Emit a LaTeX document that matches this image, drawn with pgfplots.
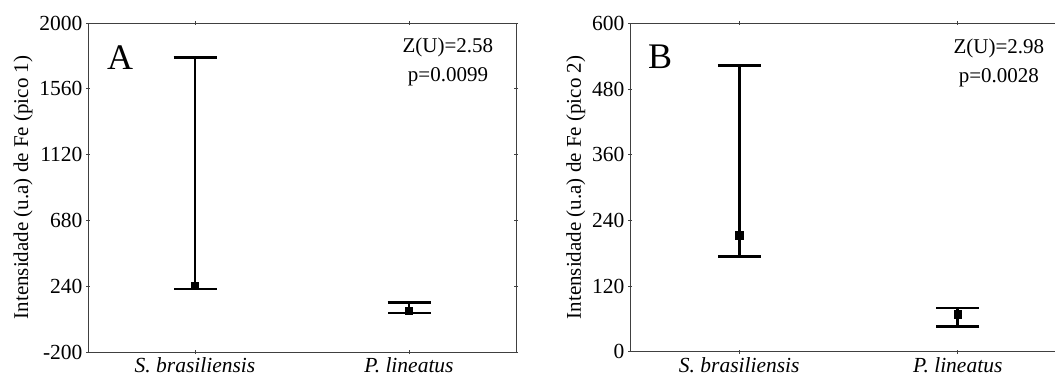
\documentclass[border=0pt]{standalone}
\usepackage{pgfplots}
\usepackage{pgfplotstable}
\pgfplotsset{compat=1.18}
\usepackage{fontspec}
\setmainfont{Liberation Serif}

\pgfplotstableread{
x med lo hi
0 243 221 1771
1 76 61 130
}\dataA
\pgfplotstableread{
x med lo hi
0 213 174 523
1 68 46 80
}\dataB

\tikzset{
 txt/.style={font=\fontsize{21}{22}\selectfont, anchor=base, inner sep=0pt},
 big/.style={font=\fontsize{36}{36}\selectfont, anchor=base west, inner sep=0pt},
}
\begin{document}
\begin{tikzpicture}
\path[use as bounding box] (0pt,0pt) rectangle (1055pt,-380pt);
\pgfplotsset{
 myax/.style={
  scale only axis,
  xmin=-0.5, xmax=1.5, xtick={0,1},
  xticklabels={\textit{S. brasiliensis},\textit{P. lineatus}},
  tick align=center, tickpos=both, major tick length=4pt,
  axis line style={black!75, line width=0.8pt},
  tick style={black!75, line width=0.8pt},
  ticklabel style={font=\fontsize{21.5}{24}\selectfont},
  label style={font=\fontsize{21}{22}\selectfont},
  /pgf/number format/assume math mode=true,
  /pgf/number format/1000 sep={},
  clip=false,
 },
 myplot/.style={
  black, line width=2.8pt, only marks, mark=square*, mark size=3.7pt,
  mark options={line width=0.6pt},
  error bars/.cd, y dir=both, y explicit,
  error mark=|, error mark options={black, mark size=21.5pt, line width=2.8pt},
  error bar style={black, line width=2.8pt},
 },
}
\begin{axis}[myax, at={(88pt,-352pt)}, anchor=south west, width=428pt, height=329pt,
  ymin=-200, ymax=2000, ytick={-200,240,680,1120,1560,2000},
  ylabel={Intensidade (u.a) de Fe (pico 1)}]
\addplot[myplot] table[x=x, y=med, y error plus expr=\thisrow{hi}-\thisrow{med}, y error minus expr=\thisrow{med}-\thisrow{lo}] {\dataA};
\node[big] at (rel axis cs:0.044,0.860) {A};
\node[txt] at (rel axis cs:0.841,0.909) {Z(U)=2.58};
\node[txt] at (rel axis cs:0.841,0.821) {p=0.0099};
\end{axis}
\begin{axis}[myax, at={(630pt,-351.7pt)}, anchor=south west, width=437pt, height=328.4pt,
  ymin=0, ymax=600, ytick={0,120,240,360,480,600},
  ylabel={Intensidade (u.a) de Fe (pico 2)}]
\addplot[myplot] table[x=x, y=med, y error plus expr=\thisrow{hi}-\thisrow{med}, y error minus expr=\thisrow{med}-\thisrow{lo}] {\dataB};
\node[big] at (rel axis cs:0.041,0.861) {B};
\node[txt] at (rel axis cs:0.844,0.9095) {Z(U)=2.98};
\node[txt] at (rel axis cs:0.844,0.821) {p=0.0028};
\end{axis}
\end{tikzpicture}
\end{document}
